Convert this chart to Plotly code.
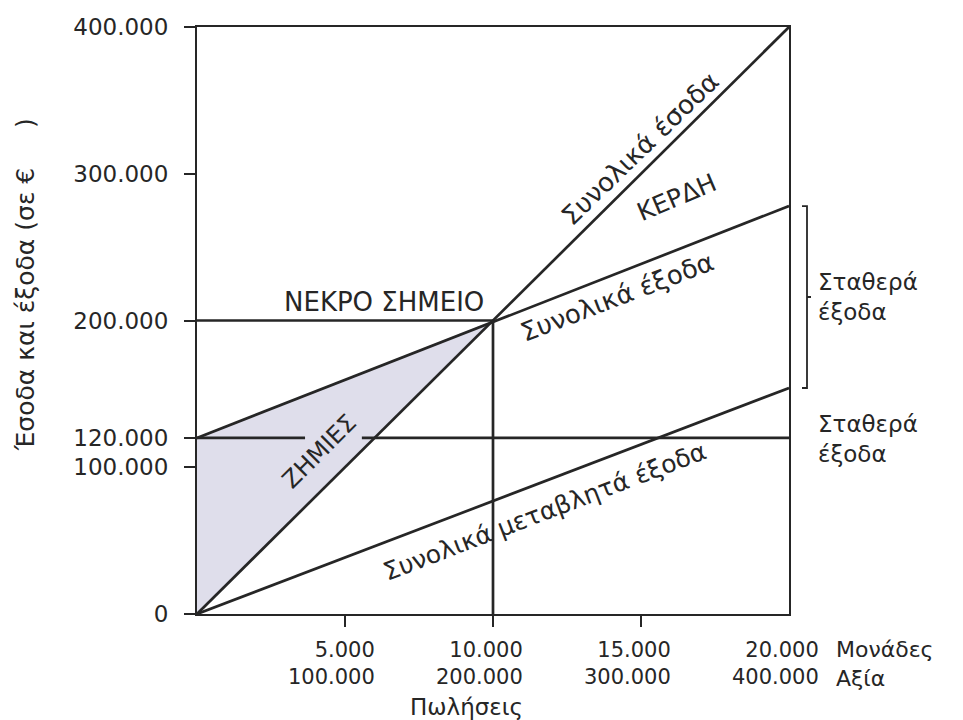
import plotly.graph_objects as go

# ---- data ----
units = [0, 20000]
revenue = [0, 400000]
total_cost = [120000, 278000]
variable_cost = [0, 154000]
fixed_cost_x = [0, 3650, None, 5570, 20000]
fixed_cost_y = [120000, 120000, None, 120000, 120000]
breakeven_units = 10000
breakeven_value = 200000
loss_x = [0, 0, 10000]
loss_y = [0, 120000, 200000]

y_tickvals = [0, 100000, 120000, 200000, 300000, 400000]
y_ticktext = ["0", "100.000", "120.000", "200.000", "300.000", "400.000"]
x_tickvals = [5000, 10000, 15000, 20000]
x_units_text = ["5.000", "10.000", "15.000", "20.000"]
x_value_text = ["100.000", "200.000", "300.000", "400.000"]

INK = "#262626"
FONT = "DejaVu Sans"
LW = 2.7

fig = go.Figure()

# loss area
fig.add_trace(go.Scatter(x=loss_x, y=loss_y, fill="toself", fillcolor="#dfdeeb",
                         mode="none", hoverinfo="skip"))
# lines
line = dict(color=INK, width=LW)
fig.add_trace(go.Scatter(x=units, y=revenue, mode="lines", line=line))
fig.add_trace(go.Scatter(x=units, y=total_cost, mode="lines", line=line))
fig.add_trace(go.Scatter(x=units, y=variable_cost, mode="lines", line=line))
fig.add_trace(go.Scatter(x=fixed_cost_x, y=fixed_cost_y, mode="lines", line=line,
                         connectgaps=False))
fig.add_trace(go.Scatter(x=[0, breakeven_units], y=[breakeven_value, breakeven_value],
                         mode="lines", line=line))
fig.add_trace(go.Scatter(x=[breakeven_units, breakeven_units], y=[0, breakeven_value],
                         mode="lines", line=line))

# bracket for fixed costs (between variable-cost end and total-cost end)
yt, yb = total_cost[-1], variable_cost[-1]
ym = (yt + yb) / 2
xb = 1.0 + 18 / 592
xh = 1.0 + 13 / 592
xp = 1.0 + 22 / 592
fig.add_shape(type="path", xref="paper", yref="y",
              path=f"M {xh} {yt} L {xb} {yt} L {xb} {ym} L {xp} {ym} L {xb} {ym} L {xb} {yb} L {xh} {yb}",
              line=dict(color=INK, width=1.8))

ann = []
def t(text, x, y, angle=0, size=24, **kw):
    d = dict(text=text, x=x, y=y, textangle=angle, showarrow=False,
             font=dict(family=FONT, size=size, color=INK))
    d.update(kw)
    ann.append(d)

t("ΝΕΚΡΟ ΣΗΜΕΙΟ", 6320, 212500, size=26)
t("Συνολικά έσοδα", 14950, 317000, angle=-44, size=26)
t("ΚΕΡΔΗ", 16200, 284000, angle=-23, size=25)
t("Συνολικά έξοδα", 14190, 216000, angle=-21, size=26)
t("ΖΗΜΙΕΣ", 4150, 111000, angle=-45, size=24)
t("Συνολικά μεταβλητά έξοδα", 11750, 70000, angle=-21, size=25)

# right side labels
for yv, dy in ((ym, 0), (fixed_cost_y[0], -1)):
    t("Σταθερά<br>έξοδα", 1.0, yv, xref="paper", xanchor="left", yanchor="middle",
      align="left", xshift=27, yshift=dy, size=23)

# x tick labels (two rows, right aligned)
for xv, u, v in zip(x_tickvals, x_units_text, x_value_text):
    t(f"{u}<br>{v}", xv, 0, yref="paper", xanchor="right", yanchor="top",
      align="right", xshift=32, yshift=-22, size=21)
t("Μονάδες<br>Αξία", 1.0, 0, xref="paper", yref="paper", xanchor="left", yanchor="top",
  align="left", xshift=45, yshift=-21, size=22)
t("Πωλήσεις", 0.455, 0, xref="paper", yref="paper", yanchor="middle", yshift=-93, size=23)

# y title
t("Έσοδα και έξοδα (σε €     )", -0.2905, 0.56, angle=-90, xref="paper", yref="paper",
  xanchor="center", yanchor="middle", size=25)

fig.update_layout(
    width=963, height=720,
    margin=dict(l=197, r=174, t=27, b=106),
    paper_bgcolor="white", plot_bgcolor="white",
    showlegend=False,
    annotations=ann,
    xaxis=dict(range=[0, 20000], showgrid=False, zeroline=False,
               showline=True, mirror=True, linecolor=INK, linewidth=2,
               tickvals=[5000, 10000, 15000], ticks="outside", ticklen=11,
               tickcolor=INK, tickwidth=2, showticklabels=False),
    yaxis=dict(range=[0, 400000], showgrid=False, zeroline=False,
               showline=True, mirror=True, linecolor=INK, linewidth=2,
               tickvals=y_tickvals, ticktext=y_ticktext, ticks="outside",
               ticklen=11, tickcolor=INK, tickwidth=2, ticklabelstandoff=11,
               tickfont=dict(family=FONT, size=23, color=INK)),
)

fig.write_html("out.html")
